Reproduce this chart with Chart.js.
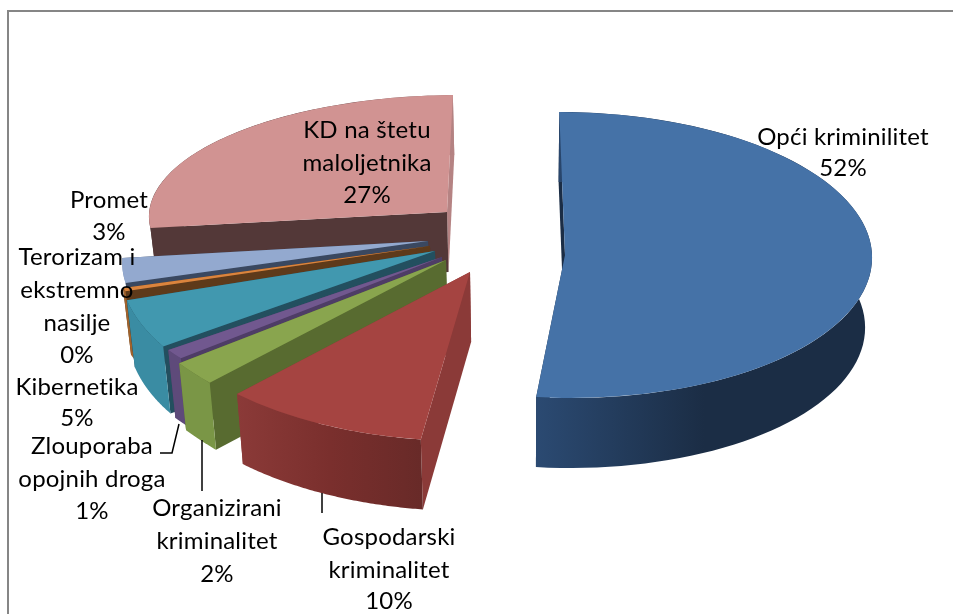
<!DOCTYPE html>
<html>
<head>
<meta charset="utf-8">
<style>
  html, body { margin: 0; padding: 0; background: #fff; }
  #wrap { width: 953px; height: 614px; }
</style>
<script src="https://cdn.jsdelivr.net/npm/chart.js@4"></script>
</head>
<body>
<div id="wrap"><canvas id="chart" width="953" height="614"></canvas></div>
<script>
const categories = [
  ['Opći kriminilitet'],
  ['Gospodarski', 'kriminalitet'],
  ['Organizirani', 'kriminalitet'],
  ['Zlouporaba', 'opojnih droga'],
  ['Kibernetika'],
  ['Terorizam i', 'ekstremno', 'nasilje'],
  ['Promet'],
  ['KD na štetu', 'maloljetnika']
]
const values = [52, 10, 2, 1, 5, 0.4, 3, 27]

// office palette
const topColors = ['#4572A7', '#A54441', '#89A54E', '#71588F', '#4198AF', '#DB843D', '#93A9CF', '#D19392']
const startFaceColors = ['#1B2D45', '#8B3A38', '#586B30', '#4E3D66', '#234F5F', '#5E3A1A', '#3A4860', '#533838']
const endFaceColors = ['#1B2D45', '#8B3A38', '#586B30', '#4E3D66', '#234F5F', '#5E3A1A', '#3A4860', '#B58383']
const wallColors = [
  ['#2B4A72', '#1B2D45', '#1B2D45'],
  ['#8B3A38', '#7A2F2D', '#682A28'],
  ['#7A9646', '#7A9646', '#7A9646'],
  ['#5E4A7A', '#5E4A7A', '#5E4A7A'],
  ['#3A8CA3', '#3A8CA3', '#3A8CA3'],
  ['#A0622C', '#A0622C', '#A0622C'],
  ['#7F94B8', '#7F94B8', '#7F94B8'],
  ['#533838', '#533838', '#B58383']
]

// how far each slice is pulled out of the pie, and its fake perspective
const explodeX = [120, 25, 1, -3, -10, -15, -17, 2]
const explodeY = [10, 27, 15, 12, 6, 1, -4, -33]
const radiusX = [307, 333, 351, 335, 314, 322, 302, 298]
const radiusY = [143, 169, 192, 165, 165.5, 139, 136, 117]
const shearX = [0.04, -0.07, 0, -0.06, -0.209, 0, -0.353, -0.05]
const shearY = [0, 0.013, 0.081, 0.023, 0.016, 0, -0.003, -0.0075]
const depth = [70, 70, 67, 68, 67, 67, 60, 60]
const bottomShrink = 0.98
const vanishX = 525

// back to front
const paintOrder = [7, 6, 5, 4, 3, 2, 1, 0]

const labelBoxes = [
  { x: 843, y: [137, 168] },
  { x: 389, y: [537, 570, 601] },
  { x: 217, y: [508, 541, 574] },
  { x: 92, y: [446, 479, 511] },
  { x: 77, y: [387, 418] },
  { x: 77, y: [257, 290, 323, 355] },
  { x: 109, y: [200, 232] },
  { x: 367, y: [130, 163, 195] }
]
const leaders = [
  [[160, 453], [172, 453], [179, 424]],
  [[202, 440], [202, 491]],
  [[322, 493], [322, 513]]
]

const fontFamily = 'Lato, "Open Sans", sans-serif'
const fontSize = 24

function project (el, i, angle, r, low) {
  const px = Math.cos(angle) * r * radiusX[i] / el.outerRadius
  const py = Math.sin(angle) * r * radiusY[i] / el.outerRadius
  let x = el.x + explodeX[i] + px + shearX[i] * py
  let y = el.y + explodeY[i] + py + shearY[i] * px
  if (low) {
    x = vanishX + (x - vanishX) * bottomShrink
    y += depth[i]
  }
  return [x, y]
}

function radialFace (ctx, el, i, angle, color) {
  const a = project(el, i, angle, 0, false)
  const b = project(el, i, angle, el.outerRadius, false)
  const c = project(el, i, angle, el.outerRadius, true)
  const d = project(el, i, angle, 0, true)
  ctx.fillStyle = color
  ctx.beginPath()
  ctx.moveTo(a[0], a[1])
  ctx.lineTo(b[0], b[1])
  ctx.lineTo(c[0], c[1])
  ctx.lineTo(d[0], d[1])
  ctx.closePath()
  ctx.fill()
}

function outerWall (ctx, el, i) {
  const steps = 80
  const pts = []
  for (let s = 0; s <= steps; s++) {
    pts.push(project(el, i, el.startAngle + (el.endAngle - el.startAngle) * s / steps, el.outerRadius, false))
  }
  for (let s = steps; s >= 0; s--) {
    pts.push(project(el, i, el.startAngle + (el.endAngle - el.startAngle) * s / steps, el.outerRadius, true))
  }
  const xs = pts.map(p => p[0])
  const grad = ctx.createLinearGradient(Math.min(...xs), 0, Math.max(...xs), 0)
  wallColors[i].forEach((c, k) => grad.addColorStop(k / (wallColors[i].length - 1), c))
  ctx.fillStyle = grad
  ctx.beginPath()
  pts.forEach((p, k) => k ? ctx.lineTo(p[0], p[1]) : ctx.moveTo(p[0], p[1]))
  ctx.closePath()
  ctx.fill()
}

const pie3d = {
  id: 'pie3d',
  beforeDraw (chart) {
    const ctx = chart.ctx
    ctx.save()
    ctx.fillStyle = '#fff'
    ctx.fillRect(0, 0, chart.width, chart.height)
    ctx.strokeStyle = '#868686'
    ctx.lineWidth = 2
    ctx.beginPath()
    ctx.moveTo(8, 614)
    ctx.lineTo(8, 11)
    ctx.lineTo(953, 11)
    ctx.stroke()
    ctx.restore()
  },
  beforeDatasetsDraw (chart) {
    const ctx = chart.ctx
    const arcs = chart.getDatasetMeta(0).data
    paintOrder.forEach(i => {
      const el = arcs[i]
      radialFace(ctx, el, i, el.endAngle, endFaceColors[i])
      radialFace(ctx, el, i, el.startAngle, startFaceColors[i])
      outerWall(ctx, el, i)
      // top of the slice is the library's own arc, just squashed and moved
      const sx = radiusX[i] / el.outerRadius
      const sy = radiusY[i] / el.outerRadius
      ctx.save()
      ctx.transform(sx, shearY[i] * sx, shearX[i] * sy, sy, el.x + explodeX[i], el.y + explodeY[i])
      ctx.translate(-el.x, -el.y)
      el.draw(ctx)
      ctx.restore()
    })
    return false
  },
  afterDraw (chart) {
    const ctx = chart.ctx
    const total = values.reduce((a, b) => a + b, 0)
    ctx.save()
    ctx.strokeStyle = '#000'
    ctx.lineWidth = 1.5
    leaders.forEach(line => {
      ctx.beginPath()
      line.forEach((p, k) => k ? ctx.lineTo(p[0], p[1]) : ctx.moveTo(p[0], p[1]))
      ctx.stroke()
    })
    ctx.fillStyle = '#000'
    ctx.font = fontSize + 'px ' + fontFamily
    ctx.letterSpacing = '0.2px' // also stops the "ti" ligature in Lato
    ctx.textAlign = 'center'
    ctx.textBaseline = 'middle'
    categories.forEach((lines, i) => {
      const pct = Math.round(values[i] / total * 100) + '%'
      lines.concat(pct).forEach((t, k) => {
        ctx.fillText(t, labelBoxes[i].x, labelBoxes[i].y[k])
      })
    })
    ctx.restore()
  }
}

new Chart(document.getElementById('chart'), {
  type: 'pie',
  data: {
    labels: categories.map(c => c.join(' ')),
    datasets: [{
      data: values,
      backgroundColor: topColors,
      borderWidth: 0
    }]
  },
  options: {
    responsive: false,
    animation: false,
    radius: 300,
    layout: { padding: { right: 63, bottom: 124 } },
    plugins: {
      legend: { display: false },
      title: { display: false },
      tooltip: { enabled: false }
    }
  },
  plugins: [pie3d]
})
</script>
</body>
</html>
